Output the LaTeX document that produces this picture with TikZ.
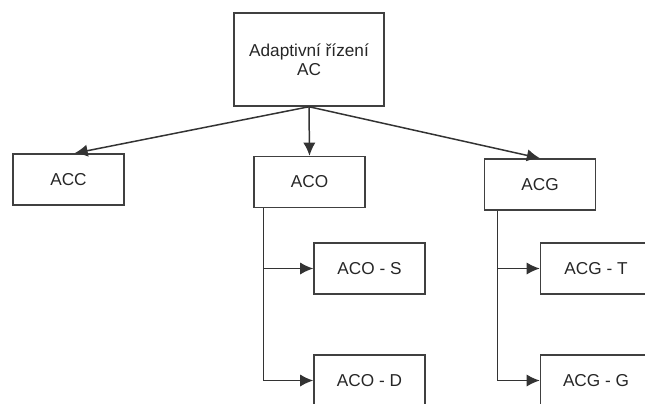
\documentclass[tikz,border=0pt]{standalone}
\usepackage{fontspec}
\setmainfont{Liberation Sans}
\usetikzlibrary{calc,arrows.meta}

\tikzset{
    box/.style={draw=black!75, line width=0.85pt, inner sep=0pt,
        minimum width=2.22cm, minimum height=1.02cm,
        text=black!85, font=\fontsize{9.8}{10.6}\selectfont},
    link/.style={draw=black!80, line width=0.85pt, -{Latex[length=7.5pt,width=7pt]}}
}

\begin{document}
\begin{tikzpicture}[x=0.02cm, y=-0.02cm]
        \useasboundingbox (0, 0) rectangle (645, 403);
        \clip (0, 0) rectangle (645, 403);
        \node[box, minimum width=3cm, minimum height=1.86cm, align=center] (root) at (309, 59.5) {Adaptivní řízení\\AC};
        \node[box] (acc)  at ( 68.5, 179.5) {ACC};
        \node[box] (aco)  at (309.5, 182.0) {ACO};
        \node[box] (acg)  at (540.0, 184.5) {ACG};
        \node[box] (acos) at (369.5, 268.5) {ACO - S};
        \node[box] (acod) at (369.5, 380.5) {ACO - D};
        \node[box] (acgt) at (596.0, 268.5) {ACG - T};
        \node[box] (acgg) at (596.0, 380.5) {ACG - G};
        \coordinate (O) at (root.south);
        \draw[link] (O) -- ($(acc.north)+(6, 0)$);
        \draw[link] (O) -- (aco.north);
        \draw[link] (O) -- (acg.north);
        %
        \coordinate (P) at ($(aco.south west)+(10, 0)$);
        \coordinate (Q) at ($(acg.south west)+(13.5, 0)$);
        \draw[link] (P) |- (acos.west);
        \draw[link] (P) |- (acod.west);
        \draw[link] (Q) |- (acgt.west);
        \draw[link] (Q) |- (acgg.west);
        %
    \end{tikzpicture}
\end{document}
